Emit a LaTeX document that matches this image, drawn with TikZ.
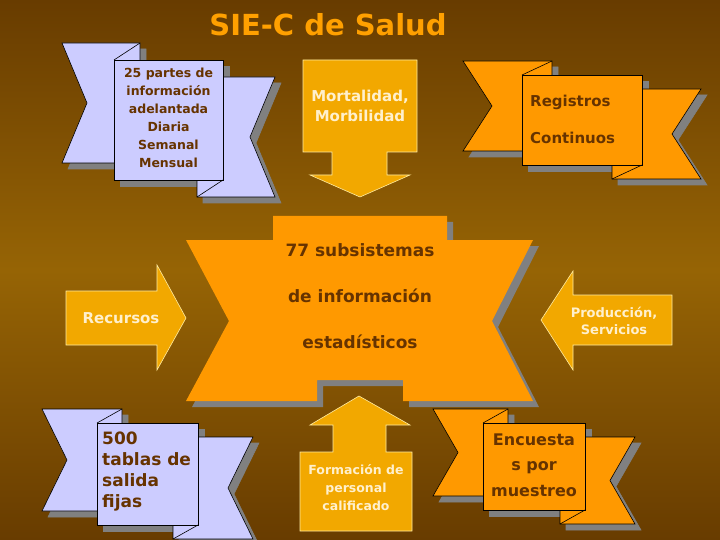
\documentclass[tikz,border=0pt]{standalone}
\usepackage{fontspec}
\setmainfont{DejaVu Sans}
\definecolor{bgdark}{RGB}{104,60,0}
\definecolor{bgmid}{RGB}{150,100,5}
\definecolor{lav}{RGB}{204,204,255}
\definecolor{org}{RGB}{255,153,0}
\definecolor{arr}{RGB}{242,168,0}
\definecolor{arrline}{RGB}{255,235,160}
\definecolor{txtd}{RGB}{102,51,0}
\definecolor{txtl}{RGB}{255,240,205}
\definecolor{shad}{RGB}{128,128,128}
\definecolor{ttl}{RGB}{255,160,0}
\tikzset{
  rib/.style={line width=0.6pt, line join=miter},
  arrowbox/.style={fill=arr, draw=arrline, line width=0.6pt},
  dtext/.style={text=txtd, font=\bfseries, inner sep=0pt},
  ltext/.style={text=txtl, font=\bfseries, inner sep=0pt, align=center},
}
% #1 x1 #2 y1 #3 x2 #4 y2 #5 e #6 f #7 dy #8 n #9 fill
\newcommand\myribbon[9]{%
  \foreach \s/\c/\d in {6/shad/shad,0/#9/black}{%
  \begin{scope}[shift={(\s,\s)}]
  \path[rib,fill=\c,draw=\d]
    ({#1-#5},{#2-#7}) -- ({#1+#6},{#2-#7}) -- ({#1+#6},{#4-#7}) -- ({#1-#5},{#4-#7}) -- ({#1-#5+#8},{(#2+#4)/2-#7}) -- cycle;
  \path[rib,fill=\c,draw=\d]
    ({#3-#6},{#2+#7}) -- ({#3+#5},{#2+#7}) -- ({#3+#5-#8},{(#2+#4)/2+#7}) -- ({#3+#5},{#4+#7}) -- ({#3-#6},{#4+#7}) -- cycle;
  \path[rib,fill=\c,draw=\d] (#1,#2) rectangle (#3,#4);
  \end{scope}}%
  \draw[rib] (#1,#2) -- ({#1+#6},{#2-#7});
  \draw[rib] (#3,#4) -- ({#3-#6},{#4+#7});
}
\begin{document}
\begin{tikzpicture}[x=1pt,y=-1pt]
\useasboundingbox (0,0) rectangle (720,540);
\shade[top color=bgdark, bottom color=bgdark, middle color=bgmid] (0,0) rectangle (720,540);

\node[text=ttl, font=\bfseries\fontsize{29}{30}\selectfont, inner sep=0pt] (title) at (328,25) {SIE-C de Salud};

% ribbons
\myribbon{114}{60}{223}{180}{52}{26}{17}{25}{lav}
\node[dtext, align=center, font=\bfseries\fontsize{12.5}{18}\selectfont] (t1) at (168.5,118) {25 partes de\\información\\adelantada\\Diaria\\Semanal\\Mensual};

\myribbon{522}{75}{642}{165}{59}{30}{14}{29}{org}
\node[dtext, anchor=west, font=\bfseries\fontsize{15}{18}\selectfont] (t2a) at (530,102) {Registros};
\node[dtext, anchor=west, font=\bfseries\fontsize{15}{18}\selectfont] (t2b) at (530,138) {Continuos};

\myribbon{97}{423}{198}{525}{55}{25}{14}{25}{lav}
\node[dtext, anchor=west, font=\bfseries\fontsize{17}{18}\selectfont] (t3a) at (102,438) {500};
\node[dtext, anchor=north west, align=left, font=\bfseries\fontsize{17}{21}\selectfont] (t3b) at (102,452) {tablas de\\salida\\fijas};

\myribbon{483}{423}{585}{510}{50}{25}{14}{25}{org}
\node[dtext, align=center, font=\bfseries\fontsize{16}{25.5}\selectfont] (t4) at (534,465) {Encuesta\\s por\\muestreo};

% central shape
\foreach \s/\c in {6/shad,0/org}{
\fill[\c, shift={(\s,\s)}] (273,216) -- (447,216) -- (447,240) -- (533,240) -- (492,321) -- (533,401)
  -- (403,401) -- (403,380) -- (317,380) -- (317,401) -- (186,401) -- (229,321) -- (186,240) -- (273,240) -- cycle;}
\node[dtext, font=\bfseries\fontsize{17}{18}\selectfont] (c1) at (360,250) {77 subsistemas};
\node[dtext, font=\bfseries\fontsize{17}{18}\selectfont] (c2) at (360,296) {de información};
\node[dtext, font=\bfseries\fontsize{17}{18}\selectfont] (c3) at (360,342) {estadísticos};

% arrows
\draw[arrowbox] (303,60) -- (417,60) -- (417,152) -- (387,152) -- (387,175) -- (410,175) -- (360,197) -- (310,175) -- (332,175) -- (332,152) -- (303,152) -- cycle;
\node[ltext, font=\bfseries\fontsize{15}{20}\selectfont] (a1) at (360,106) {Mortalidad,\\Morbilidad};

\draw[arrowbox] (300,452) -- (333,452) -- (333,425) -- (310,425) -- (359,396) -- (410,425) -- (386,425) -- (386,452) -- (412,452) -- (412,531) -- (300,531) -- cycle;
\node[ltext, font=\bfseries\fontsize{12.5}{18}\selectfont] (a2) at (356,488) {Formación de\\personal\\calificado};

\draw[arrowbox] (66,291) -- (157,291) -- (157,265) -- (186,318) -- (157,370) -- (157,345) -- (66,345) -- cycle;
\node[ltext, font=\bfseries\fontsize{15}{18}\selectfont] (a3) at (121,318) {Recursos};

\draw[arrowbox] (672,295) -- (573,295) -- (573,271) -- (541,320) -- (573,370) -- (573,345) -- (672,345) -- cycle;
\node[ltext, font=\bfseries\fontsize{13}{17}\selectfont] (a4) at (614,321) {Producción,\\Servicios};
\end{tikzpicture}
\end{document}
